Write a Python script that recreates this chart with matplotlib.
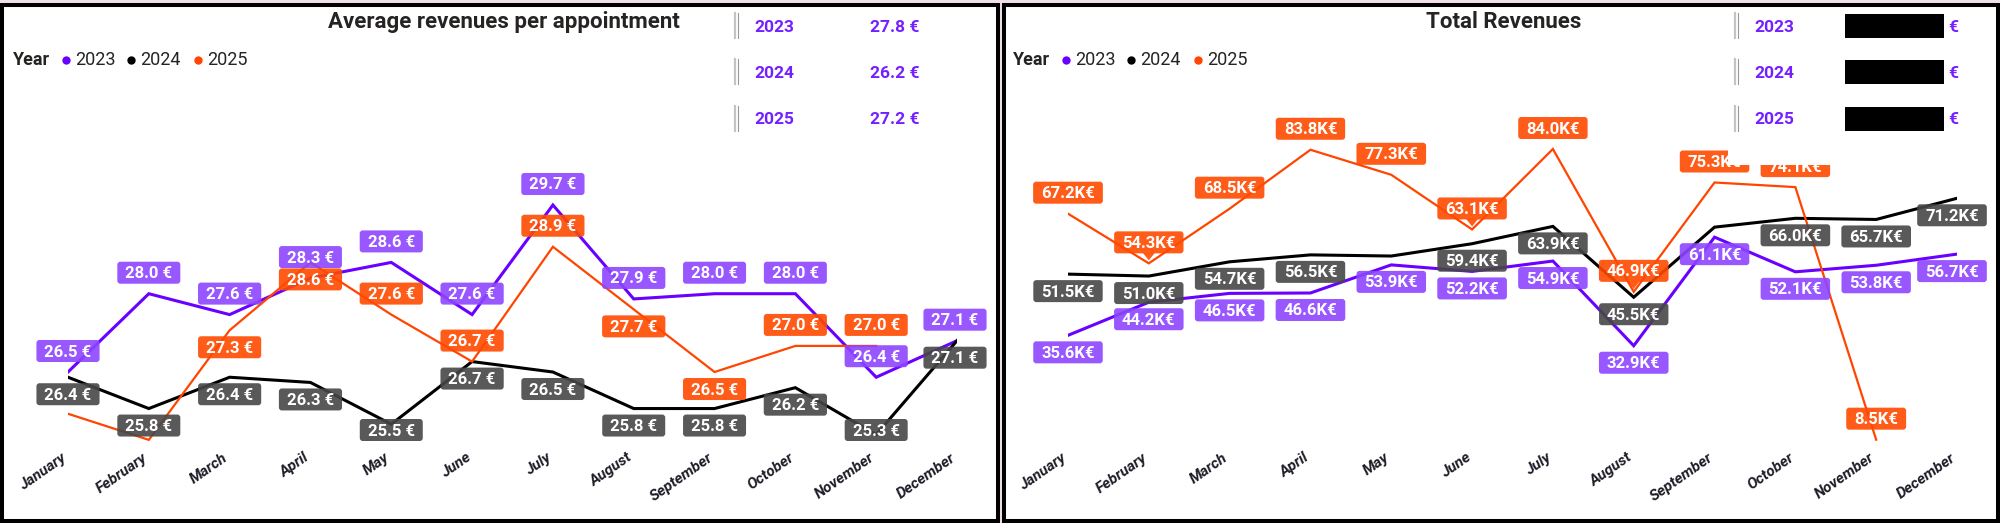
import matplotlib
matplotlib.use('Agg')
import matplotlib.pyplot as plt
from matplotlib.patches import Rectangle, FancyBboxPatch, Polygon
from matplotlib.transforms import IdentityTransform, ScaledTranslation

plt.rcParams['font.family'] = ['Roboto', 'DejaVu Sans']

# ---------------- data ----------------
months = ['January', 'February', 'March', 'April', 'May', 'June', 'July',
          'August', 'September', 'October', 'November', 'December']
years = ['2023', '2024', '2025']

avg_2023 = [26.5, 28.0, 27.6, 28.3, 28.6, 27.6, 29.7, 27.9, 28.0, 28.0, 26.4, 27.1]
avg_2024 = [26.4, 25.8, 26.4, 26.3, 25.5, 26.7, 26.5, 25.8, 25.8, 26.2, 25.3, 27.1]
avg_2025 = [25.7, 25.2, 27.3, 28.6, 27.6, 26.7, 28.9, 27.7, 26.5, 27.0, 27.0]

rev_2023 = [35.6, 44.2, 46.5, 46.6, 53.9, 52.2, 54.9, 32.9, 61.1, 52.1, 53.8, 56.7]
rev_2024 = [51.5, 51.0, 54.7, 56.5, 56.2, 59.4, 63.9, 45.5, 63.7, 66.0, 65.7, 71.2]
rev_2025 = [67.2, 54.3, 68.5, 83.8, 77.3, 63.1, 84.0, 46.9, 75.3, 74.1, 8.5]

avg_cards = [27.8, 26.2, 27.2]

# label placement (style): 'a' above, 'b' below, 'c' above with callout, None hidden
avg_pos = [['a'] * 12,
           ['b'] * 12,
           [None, None, 'b', 'b', 'a', 'a', 'a', 'b', 'b', 'a', 'a']]
rev_pos = [['b'] * 12,
           ['b', 'b', 'b', 'b', None, 'b', 'b', 'b', None, 'b', 'b', 'b'],
           ['a', 'c', 'a', 'a', 'a', 'c', 'a', 'c', 'a', 'a', 'a']]

# ---------------- style ----------------
W, H = 2000, 523
line_colors = ['#6A00FF', '#000000', '#FF4500']
line_widths = [2.2, 2.2, 1.6]
label_colors = ['#8D45FF', '#474747', '#FF4A00']
card_purple = '#7420FF'
text_dark = '#252423'

fig = plt.figure(figsize=(20, 5.23), dpi=100, facecolor='#f3dfe9')


def fx(px):
    return px / W


def fy(py):
    return 1 - py / H


bg = fig.add_axes([0, 0, 1, 1], zorder=0)
bg.set_xlim(0, W)
bg.set_ylim(H, 0)
bg.axis('off')
for x0, x1 in [(0, 1000), (1002, 2000)]:
    bg.add_patch(Rectangle((x0, 3), x1 - x0, H - 3, facecolor='white', edgecolor='none'))

panels = [
    dict(ox=0, series=[avg_2023, avg_2024, avg_2025], pos=avg_pos,
         fmt=lambda v: f'{v:.1f} €', ylim=(24.91, 31.52),
         title='Average revenues per appointment'),
    dict(ox=1000, series=[rev_2023, rev_2024, rev_2025], pos=rev_pos,
         fmt=lambda v: f'{v:.1f}K€', ylim=(4.52, 94.13),
         title='Total Revenues'),
]

all_labels = []
for p in panels:
    ox = p['ox']
    ax = fig.add_axes([fx(68 + ox), fy(455), fx(957 - 68), (455 - 110) / H], zorder=1)
    ax.patch.set_visible(False)
    for s in ax.spines.values():
        s.set_visible(False)
    ax.set_xlim(0, 11)
    ax.set_ylim(*p['ylim'])
    ax.set_yticks([])
    ax.set_xticks(range(12))
    ax.set_xticklabels(months, rotation=35, ha='right', va='center',
                       rotation_mode='anchor', fontstyle='italic',
                       fontweight='bold', fontsize=11, color='#1e1e28')
    ax.tick_params(axis='x', length=0, pad=1)
    off = ScaledTranslation(-3 / 100, 0, fig.dpi_scale_trans)
    for lab in ax.get_xticklabels():
        lab.set_transform(lab.get_transform() + off)

    for k, vals in enumerate(p['series']):
        ax.plot(range(len(vals)), vals, color=line_colors[k], lw=line_widths[k],
                solid_joinstyle='miter', zorder=2)

    for k, vals in enumerate(p['series']):
        for i, v in enumerate(vals):
            where = p['pos'][k][i]
            if where is None:
                continue
            xd, yd = ax.transData.transform((i, v))
            yimg = H - yd
            cy = yimg - 20 if where in ('a', 'c') else yimg + 18
            cy = min(cy, 431)
            cx = min(xd, 1952 if ox else 955)
            t = ax.text(cx, H - cy, p['fmt'](v), transform=IdentityTransform(),
                        ha='center', va='center', fontsize=12, fontweight='bold',
                        color='white', zorder=4, clip_on=False)
            all_labels.append((ax, t, label_colors[k], H - cy, where == 'c', cx))

fig.canvas.draw()
renderer = fig.canvas.get_renderer()
for ax, t, col, yc, callout, cx in all_labels:
    bb = t.get_window_extent(renderer)
    w = bb.width + 16
    h = 22
    patch = FancyBboxPatch((bb.x0 - 8, yc - h / 2 + 1), w, h,
                           boxstyle='round,pad=0,rounding_size=3',
                           transform=IdentityTransform(), facecolor=col,
                           edgecolor='none', alpha=0.9, zorder=3)
    ax.add_artist(patch)
    patch.set_clip_on(False)
    if callout:
        yb = yc - h / 2 + 1
        tri = Polygon([(cx - 6, yb + 0.5), (cx + 6, yb + 0.5), (cx, yb - 7)],
                      closed=True, transform=IdentityTransform(), facecolor=col,
                      edgecolor='none', alpha=0.9, zorder=3)
        ax.add_artist(tri)
        tri.set_clip_on(False)

# ---------------- overlay: borders, titles, legends, cards ----------------
ov = fig.add_axes([0, 0, 1, 1], zorder=5)
ov.set_xlim(0, W)
ov.set_ylim(H, 0)
ov.axis('off')
ov.patch.set_visible(False)

for p, (bx0, bx1) in zip(panels, [(0, 1000), (1002, 2000)]):
    ox = p['ox']
    # card visual (white, covers labels beneath)
    ov.add_patch(Rectangle((728 + ox, 7), (bx1 - 6) - (728 + ox), 158,
                           facecolor='white', edgecolor='none'))
    # border
    ov.add_patch(Rectangle((bx0 + 2, 5), bx1 - bx0 - 4, H - 7, fill=False,
                           edgecolor='black', lw=2.9, joinstyle='miter'))
    # title
    ov.text(504 + ox, 22, p['title'], ha='center', va='center', fontsize=16,
            fontweight='bold', color=text_dark)
    # legend
    ov.text(13 + ox, 60, 'Year', ha='left', va='center', fontsize=13,
            fontweight='bold', color=text_dark)
    for k, (dx, tx) in enumerate([(66, 75), (131, 140), (198, 207)]):
        ov.plot([dx + ox], [60], 'o', ms=6, color=line_colors[k], mec='none')
        ov.text(tx + ox, 60, years[k], ha='left', va='center', fontsize=13,
                color=text_dark)
    # cards
    for r, yc in enumerate([26, 72, 119]):
        ov.plot([735 + ox, 735 + ox], [yc - 13, yc + 12], color='#c4c4c4', lw=1.6)
        ov.plot([737.5 + ox, 737.5 + ox], [yc - 13, yc + 12], color='#9a9a9a', lw=0.8)
        ov.text(754 + ox, yc + 1, years[r], ha='left', va='center', fontsize=12.5,
                fontweight='bold', color=card_purple)
        if ox == 0:
            ov.text(870, yc + 1, f'{avg_cards[r]:.1f} €', ha='left', va='center',
                    fontsize=12.5, fontweight='bold', color=card_purple)
        else:
            ov.add_patch(Rectangle((1845, yc - 12), 99, 24, facecolor='black',
                                   edgecolor='none'))
            ov.text(1948, yc + 1, '€', ha='left', va='center', fontsize=12.5,
                    fontweight='bold', color=card_purple)

fig.savefig('out.png', dpi=100, facecolor=fig.get_facecolor())
